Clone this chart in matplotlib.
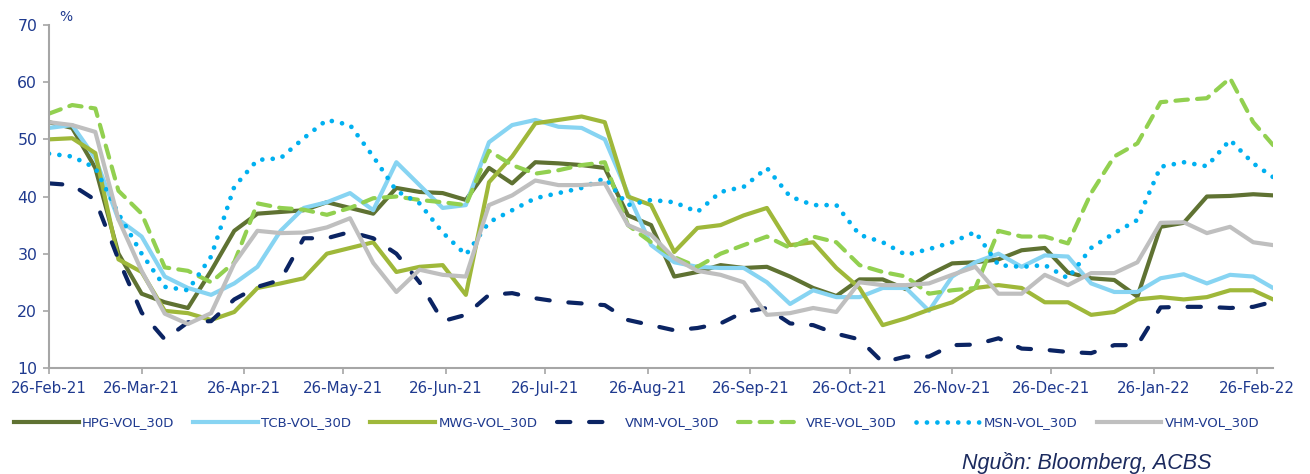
import numpy as np
import pandas as pd
import matplotlib
matplotlib.use('Agg')
import matplotlib.pyplot as plt
import matplotlib.dates as mdates

plt.rcParams['font.family'] = ['DejaVu Sans']

# weekly readings from 26-Feb-21, last point ~3-Mar-22
dates = list(pd.date_range('2021-02-26', periods=53, freq='7D')) + [pd.Timestamp('2022-03-03')]

hpg = [53, 52, 45, 30, 23, 21.5, 20.5, 27, 34, 37, 37.3, 37.6, 39, 38, 37, 41.5, 40.8, 40.6, 39.4, 45,
       42.3, 46, 45.8, 45.5, 45, 36.7, 35, 26, 26.8, 28, 27.5, 27.7, 26, 24, 22.6, 25.5, 25.5, 23.8, 26.3, 28.3,
       28.5, 29, 30.6, 31, 26.7, 25.7, 25.4, 22.5, 34.7, 35.4, 40, 40.1, 40.4, 40.2]
tcb = [52, 52.5, 46.7, 36, 33, 26, 24, 22.8, 24.8, 27.7, 34, 38, 39, 40.6, 37.6, 46, 42, 38, 38.5, 49.5,
       52.5, 53.4, 52.2, 52, 50, 40.5, 31.5, 28.5, 27.7, 27.5, 27.5, 25, 21.2, 23.6, 22.4, 22.4, 24, 24, 20, 26,
       28.5, 30, 27.7, 29.7, 29.5, 24.8, 23.3, 23.3, 25.7, 26.4, 24.8, 26.3, 26, 24]
mwg = [50, 50.2, 47.6, 29, 26.8, 20, 19.6, 18.4, 19.8, 24, 24.8, 25.7, 30, 31, 32, 26.8, 27.7, 28, 22.8, 42.5,
       47, 52.8, 53.4, 54, 53, 40, 38.5, 30.3, 34.5, 35, 36.7, 38, 31.5, 32, 27.5, 24, 17.5, 18.7, 20.2, 21.5,
       24, 24.5, 24, 21.5, 21.5, 19.3, 19.8, 22, 22.4, 22, 22.4, 23.6, 23.6, 22]
vnm = [42.3, 42, 39.4, 29, 19.7, 15, 18, 18.2, 22, 24.2, 25.4, 32.7, 32.7, 33.8, 32.7, 30, 25, 18.2, 19.3, 22.8,
       23.1, 22.2, 21.6, 21.3, 21, 18.4, 17.5, 16.6, 17, 17.8, 19.8, 20.5, 17.8, 17.5, 16, 15, 11, 12, 12, 14,
       14.1, 15.2, 13.4, 13.2, 12.8, 12.6, 14, 14, 20.6, 20.7, 20.7, 20.5, 20.7, 21.6]
vre = [54.5, 56, 55.4, 41, 37, 27.6, 27, 25, 28.5, 38.8, 38, 37.7, 36.8, 38, 39.7, 40, 39.4, 39, 38.5, 48,
       45.5, 44, 44.6, 45.5, 46, 35, 32, 29.4, 27.7, 30, 31.5, 33, 31, 33, 32, 28, 26.8, 26, 23, 23.6,
       24, 34, 33, 33, 31.8, 40.6, 47, 49.3, 56.5, 56.9, 57.2, 60.7, 53, 49]
msn = [47.5, 47, 45, 37, 30, 24.2, 23.6, 29.5, 41.7, 46.4, 46.7, 50.2, 53.4, 52.5, 47, 41, 38.8, 33.7, 29.8, 35.5,
       37.6, 39.7, 40.6, 41.5, 43.2, 38.5, 39.4, 39, 37.3, 40.8, 41.7, 45, 40, 38.5, 38.5, 33.3, 32, 29.8, 30.8, 32,
       33.8, 28, 27.7, 28, 25.7, 31, 33.6, 35.9, 45.2, 46, 45.3, 49.9, 45.8, 43.4]
vhm = [53, 52.5, 51.3, 36, 27, 19.5, 17.7, 19.6, 28.3, 34, 33.6, 33.7, 34.6, 36.2, 28.4, 23.3, 27.2, 26.3, 26, 38.5,
       40.2, 42.8, 42, 42, 42.3, 35, 33.3, 29.2, 27, 26.3, 25, 19.3, 19.6, 20.5, 19.8, 25, 24.5, 24.5, 24.8, 26.3,
       27.7, 23, 23, 26.3, 24.5, 26.6, 26.6, 28.5, 35.4, 35.5, 33.6, 34.7, 32, 31.5]

tick_dates = ['2021-02-26', '2021-03-26', '2021-04-26', '2021-05-26', '2021-06-26', '2021-07-26', '2021-08-26',
              '2021-09-26', '2021-10-26', '2021-11-26', '2021-12-26', '2022-01-26', '2022-02-26']

navy = '#1F3A8F'

fig = plt.figure(figsize=(13.1, 4.74), dpi=100)
ax = fig.add_axes([0.0374, 0.2236, 0.9344, 0.7236])

lw = 3.0
ax.plot(dates, hpg, color='#5F7232', lw=lw, label='HPG-VOL_30D', solid_joinstyle='round')
ax.plot(dates, tcb, color='#87D4F2', lw=lw, label='TCB-VOL_30D', solid_joinstyle='round')
ax.plot(dates, mwg, color='#9FB83A', lw=lw, label='MWG-VOL_30D', solid_joinstyle='round')
ax.plot(dates, vnm, color='#0B2463', lw=lw, label='VNM-VOL_30D', linestyle=(0, (3.2, 4.5)),
        dash_capstyle='round')
ax.plot(dates, vre, color='#92D050', lw=lw, label='VRE-VOL_30D', linestyle=(0, (3, 2.2)),
        dash_capstyle='round')
ax.plot(dates, msn, color='#00B0F0', lw=3.4, label='MSN-VOL_30D', linestyle=(0, (0.01, 2.2)),
        dash_capstyle='round')
ax.plot(dates, vhm, color='#BFBFBF', lw=lw, label='VHM-VOL_30D', solid_joinstyle='round')

ax.set_ylim(10, 70)
ax.set_yticks(range(10, 71, 10))
ax.set_xlim(pd.Timestamp('2021-02-26'), pd.Timestamp('2022-03-03'))
ax.set_xticks(pd.to_datetime(tick_dates))
ax.xaxis.set_major_formatter(mdates.DateFormatter('%d-%b-%y'))

for s in ['top', 'right']:
    ax.spines[s].set_visible(False)
for s in ['left', 'bottom']:
    ax.spines[s].set_color('#A6A6A6')
    ax.spines[s].set_linewidth(1.5)
ax.tick_params(axis='both', colors='#A6A6A6', labelcolor=navy, width=1.2)
ax.tick_params(axis='y', length=4.5, pad=4, labelsize=11.3)
ax.tick_params(axis='x', length=4, pad=5, labelsize=10.8)

fig.text(0.045, 0.965, '%', color=navy, fontsize=10, ha='left', va='center')

leg = fig.legend(loc='center', bbox_to_anchor=(0.486, 0.108), ncol=7, frameon=False,
                 fontsize=9.5, handlelength=4.9, handletextpad=0.25, columnspacing=1.45)
for t in leg.get_texts():
    t.set_color(navy)

fig.text(1212 / 1310, 1 - 463 / 474, 'Nguồn: Bloomberg, ACBS', fontsize=15.5, style='italic',
         family=['Liberation Sans', 'DejaVu Sans'], color='#1B2A5E', ha='right', va='center')

fig.savefig('out.png', dpi=100)
